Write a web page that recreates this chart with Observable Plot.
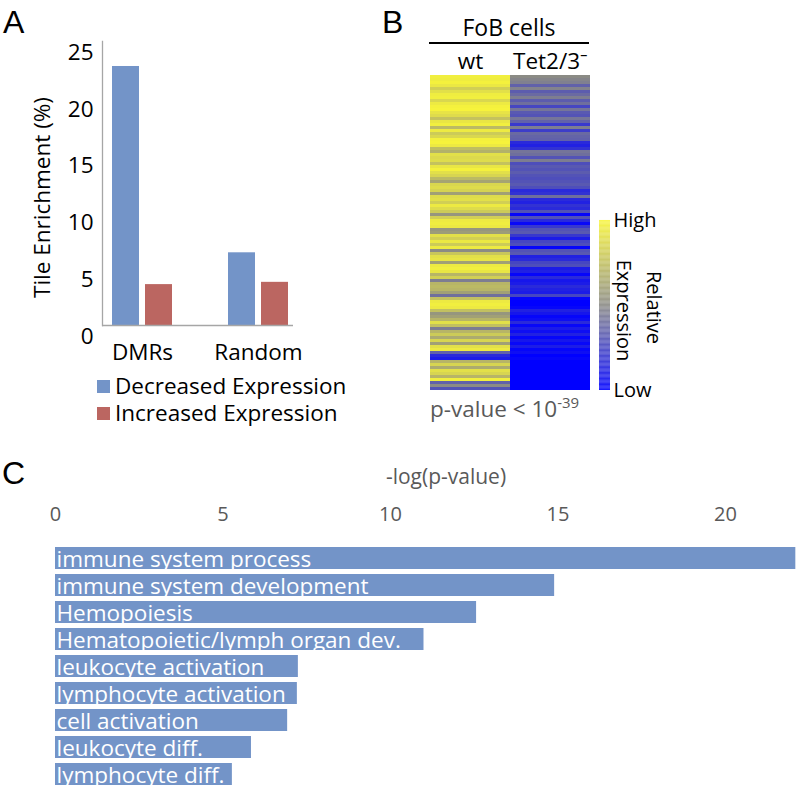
<!DOCTYPE html>
<html><head><meta charset="utf-8">
<script src="https://cdn.jsdelivr.net/npm/d3@7"></script>
<script src="https://cdn.jsdelivr.net/npm/@observablehq/plot@0.6"></script>
<style>
html,body{margin:0;padding:0;background:#fff;}
#root{position:relative;width:796px;height:792px;overflow:hidden;font-family:"Open Sans",sans-serif;}
.abs{position:absolute;}
.letter{font-family:"Liberation Sans",Arial,sans-serif;font-size:32px;line-height:32px;color:#000;}
.legendA svg{margin-right:5px !important;}
.legendA div{overflow:visible !important;text-overflow:clip !important;}
</style></head><body><div id="root"></div>
<script>
// ---------- Panel A data ----------
const categoriesA = ["DMRs", "Random"];
const seriesA = ["Decreased Expression", "Increased Expression"];
const decreasedA = [22.8, 6.4];
const increasedA = [3.6, 3.8];
const yTicksA = [0, 5, 10, 15, 20, 25];

// ---------- Panel B data ----------
const columnsB = ["wt", "Tet2/3\u207B"];
const wtB = [
  0.97,0.96,0.98,0.94,0.82,0.9,0.96,0.97,0.86,0.95,
  0.98,0.99,0.92,0.88,0.76,0.93,0.97,0.72,0.95,0.8,
  0.86,0.98,0.99,0.95,0.74,0.68,0.9,0.87,0.88,0.76,
  0.93,0.98,0.9,0.85,0.72,
  0.62,0.86,0.88,0.84,0.6,0.88,0.9,0.82,0.95,0.88,
  0.8,0.55,0.82,0.95,0.96,0.94,0.55,0.58,0.9,0.82,
  0.94,0.8,0.95,0.5,0.78,0.9,0.92,0.6,0.95,0.97,
  0.93,0.7,0.82,0.45,0.7,0.72,
  0.7,0.6,0.4,0.75,0.95,0.97,0.95,0.75,0.55,0.6,0.7,0.9,0.75,0.45,0.7,0.8,0.65,
  0.85,0.6,0.9,0.95,0.35,0.15,0.1,0.7,0.85,0.65,0.9,0.85,0.7,0.97,0.35,0.5,0.3
];
const tetB = [
  0.5,0.48,0.46,0.35,0.47,0.33,0.38,0.45,0.33,0.4,
  0.25,0.42,0.32,0.3,0.42,0.35,0.2,0.45,0.22,0.38,
  0.36,0.35,0.15,0.12,0.18,0.42,0.4,0.3,0.45,0.28,
  0.32,0.3,0.33,0.3,0.28,
  0.3,0.32,0.28,0.15,0.18,0.4,0.15,0.12,0.18,0.15,
  0.3,0.02,0.3,0.15,0.03,0.2,0.3,0.32,0.2,0.1,
  0.25,0.28,0.02,0.3,0.32,0.12,0.15,0.25,0.28,0.1,
  0.12,0.02,0.15,0.08,0.1,0.15,
  0.12,0.1,0.25,0.02,0,0,0.02,0.12,0.08,0.02,0.05,0.15,0.03,0.1,0.05,0.12,0.02,
  0.08,0.03,0.1,0.02,0.05,0,0.02,0,0,0,0,0,0,0,0,0,0
];
const colorbarLabels = ["Low", "High"];

// ---------- Panel C data ----------
const termsC = [
  "immune system process",
  "immune system development",
  "Hemopoiesis",
  "Hematopoietic/lymph organ dev.",
  "leukocyte activation",
  "lymphocyte activation",
  "cell activation",
  "leukocyte diff.",
  "lymphocyte diff."
];
const valuesC = [22.1, 14.9, 12.57, 11.0, 7.25, 7.22, 6.93, 5.85, 5.28];
const xTicksC = [0, 5, 10, 15, 20];

// ---------- helpers ----------
const root = document.getElementById("root");
function place(el, left, top) {
  const wrap = document.createElement("div");
  wrap.className = "abs";
  wrap.style.left = left + "px";
  wrap.style.top = top + "px";
  wrap.appendChild(el);
  root.appendChild(wrap);
  return wrap;
}
function htmlText(html, left, top, cls, style) {
  const d = document.createElement("div");
  d.className = "abs " + (cls || "");
  d.style.left = left + "px";
  d.style.top = top + "px";
  if (style) Object.assign(d.style, style);
  d.innerHTML = html;
  root.appendChild(d);
  return d;
}

// ---------- Panel A ----------
const dataA = categoriesA.flatMap((c, i) => [
  {cat: c, series: seriesA[0], value: decreasedA[i]},
  {cat: c, series: seriesA[1], value: increasedA[i]}
]);
const colorA = {domain: seriesA, range: ["#7394c8", "#bb6661"]};
const plotA = Plot.plot({
  width: 380, height: 440,
  marginLeft: 102, marginRight: 87, marginTop: 41, marginBottom: 115,
  style: {fontFamily: "Open Sans", fontSize: "22.5px", color: "#000", background: "transparent", overflow: "visible"},
  x: {domain: categoriesA, paddingInner: 0.483, paddingOuter: 0.0647, align: 0.667},
  y: {domain: [0, 25]},
  color: colorA,
  marks: [
    Plot.barY(dataA.filter(d => d.series === seriesA[0]), {x: "cat", y: "value", fill: "series", insetRight: 33}),
    Plot.barY(dataA.filter(d => d.series === seriesA[1]), {x: "cat", y: "value", fill: "series", insetLeft: 33}),
    Plot.ruleY([0], {stroke: "#a6a6a6", strokeWidth: 1.3}),
    Plot.frame({anchor: "left", stroke: "#a6a6a6", strokeWidth: 1.3}),
    Plot.axisY({ticks: yTicksA, tickSize: 0, tickPadding: 9, dy: 11, label: null}),
    Plot.axisX({tickSize: 0, tickPadding: 19, label: null}),
    Plot.text(["Tile Enrichment (%)"], {text: d => d, frameAnchor: "left", textAnchor: "middle", rotate: -90, dx: -60, dy: 14})
  ]
});
place(plotA, 0, 0);

const legA = Plot.legend({
  color: colorA, legend: "swatches", columns: 1, swatchSize: 13,
  style: {fontFamily: "Open Sans", fontSize: "22.5px", color: "#000", lineHeight: "26px", margin: "0", width: "300px"}
});
place(legA, 97, 373).classList.add("legendA");

// ---------- Panel B ----------
const rowsB = wtB.flatMap((v, i) => [
  {row: i, col: columnsB[0], value: v},
  {row: i, col: columnsB[1], value: tetB[i]}
]);
const colorB = {type: "linear", domain: [0, 0.5, 1], range: ["#0000ff", "#8b8b85", "#f8f53a"], interpolate: "rgb"};
const plotB = Plot.plot({
  width: 196, height: 400,
  marginLeft: 29, marginRight: 6, marginTop: 75, marginBottom: 10,
  style: {fontFamily: "Open Sans", fontSize: "22.5px", color: "#000", background: "transparent", overflow: "visible"},
  x: {domain: columnsB, padding: 0, axis: null},
  y: {domain: d3.range(wtB.length), padding: 0, axis: null},
  color: colorB,
  marks: [
    Plot.cell(rowsB, {x: "col", y: "row", fill: "value", shapeRendering: "crispEdges"}),
    Plot.axisX({anchor: "top", tickSize: 0, tickPadding: 7, label: null})
  ]
});
place(plotB, 400, 0);

htmlText("FoB cells", 429, 12, "", {width: "160px", height: "30px", lineHeight: "30px", textAlign: "center",
  fontSize: "23px", borderBottom: "2px solid #000", color: "#000"});
htmlText("p-value &lt; 10<sup style=\"font-size:15px;vertical-align:9px;line-height:0\">-39</sup>", 430, 394, "",
  {fontSize: "22.5px", lineHeight: "30px", color: "#595959", whiteSpace: "nowrap"});

const rampSteps = d3.range(0, 1, 0.005);
const plotBar = Plot.plot({
  width: 104, height: 220,
  marginLeft: 3, marginRight: 90, marginTop: 20, marginBottom: 30,
  style: {fontFamily: "Open Sans", fontSize: "20px", color: "#000", background: "transparent", overflow: "visible"},
  y: {domain: [0, 1], axis: null},
  color: colorB,
  marks: [
    Plot.barY(rampSteps, {y1: d => d, y2: d => d + 0.0052, fill: d => d}),
    Plot.axisY({anchor: "right", ticks: [0, 1], tickFormat: d => colorbarLabels[d], tickSize: 0, tickPadding: 3, label: null}),
    Plot.text(["Expression"], {text: d => d, frameAnchor: "right", textAnchor: "middle", rotate: 90, dx: 13, dy: 5}),
    Plot.text(["Relative"], {text: d => d, frameAnchor: "right", textAnchor: "middle", rotate: 90, dx: 43, dy: 2})
  ]
});
place(plotBar, 596, 200);

// ---------- Panel C ----------
const dataC = termsC.map((t, i) => ({term: t, value: valuesC[i]}));
const plotC = Plot.plot({
  width: 796, height: 332,
  marginLeft: 55, marginRight: 0, marginTop: 83, marginBottom: 4,
  style: {fontFamily: "Open Sans", fontSize: "20px", color: "#595959", background: "transparent", overflow: "visible"},
  x: {domain: [0, 22.12], axis: null},
  y: {domain: termsC, paddingInner: 0.2, paddingOuter: 0, axis: null},
  marks: [
    Plot.barX(dataC, {x: "value", y: "term", fill: "#7394c8"}),
    Plot.text(dataC, {y: "term", text: "term", frameAnchor: "left", textAnchor: "start", fill: "white", fontSize: 22.5, dx: 1, dy: 1}),
    Plot.axisX({anchor: "top", ticks: xTicksC, tickSize: 0, tickPadding: 23, label: null}),
    Plot.text(["-log(p-value)"], {text: d => d, frameAnchor: "top", textAnchor: "middle", dx: 20, dy: -74, fontSize: 21, fill: "#595959"})
  ]
});
place(plotC, 0, 460);

// ---------- Panel letters ----------
htmlText("A", 3, 6, "letter");
htmlText("B", 382, 6, "letter");
htmlText("C", 2, 457, "letter");
</script></body></html>
